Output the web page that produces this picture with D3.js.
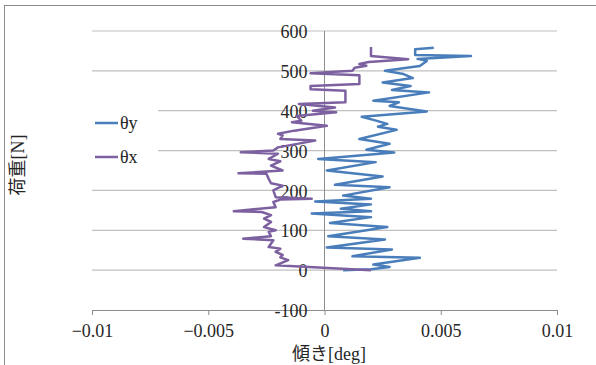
<!DOCTYPE html>
<html>
<head>
<meta charset="utf-8">
<script src="https://cdn.jsdelivr.net/npm/d3@7"></script>
<style>
body { margin: 0; background: #fff; }
svg text { font-family: "Liberation Serif", "Noto Sans CJK JP", serif; fill: #262626; }
</style>
</head>
<body>
<div id="box-div"></div>
<script>
// tick values
const xTicks = [-0.01, -0.005, 0, 0.005, 0.01];
const yTicks = [-100, 0, 100, 200, 300, 400, 500, 600];
const seriesNames = ['θy', 'θx'];

// [tilt deg, load N], bottom to top
const thetaY = [
    [0.0008, 0], [0.0020, 2], [0.0028, 8], [0.0021, 14], [0.0041, 31], [0.0012, 35],
    [0.0029, 52], [0.0001, 57], [0.0026, 77], [0.00016, 85], [0.0027, 108], [0.00024, 118],
    [0.0020, 133], [-0.00055, 142], [0.0020, 148], [0.0007, 154], [0.0020, 165], [-0.0004, 172],
    [0.0020, 179], [0.0008, 187], [0.0028, 208], [0.00045, 214], [0.0025, 235], [0.0001, 250],
    [0.0022, 271], [-0.00027, 279], [0.0030, 295], [0.0018, 302], [0.0028, 317], [0.0015, 329],
    [0.0031, 352], [0.0023, 360], [0.0027, 367], [0.0021, 377], [0.0016, 385], [0.0044, 398],
    [0.0028, 412], [0.0032, 421], [0.0021, 425], [0.0045, 446], [0.0029, 452], [0.0037, 462],
    [0.0025, 471], [0.0038, 482], [0.0034, 492], [0.0026, 500], [0.0041, 512], [0.0044, 525],
    [0.0040, 530], [0.0063, 537], [0.0039, 540], [0.0039, 554], [0.0047, 558]
];
const thetaX = [
    [0.0020, 0], [-0.0021, 12], [-0.00156, 25], [-0.0019, 32], [-0.0018, 38], [-0.0021, 46],
    [-0.0019, 54], [-0.0024, 58], [-0.0022, 75], [-0.0035, 79], [-0.0023, 85], [-0.0024, 96],
    [-0.0021, 100], [-0.0026, 108], [-0.0023, 121], [-0.0026, 129], [-0.0023, 138], [-0.0027, 146],
    [-0.0039, 148], [-0.0021, 158], [-0.0022, 171], [-0.0019, 177], [-0.00055, 179], [-0.0021, 183],
    [-0.0022, 200], [-0.0018, 212], [-0.0023, 218], [-0.0024, 229], [-0.0025, 242], [-0.0037, 243],
    [-0.0018, 250], [-0.0023, 262], [-0.0019, 273], [-0.0024, 279], [-0.0020, 292], [-0.0036, 296],
    [-0.0022, 300], [-0.0020, 308], [-0.0004, 325], [-0.0019, 329], [-0.0018, 338], [-0.0020, 342],
    [-0.0013, 350], [0.0001, 362], [-0.0014, 371], [-0.0010, 375], [-0.0012, 387], [0.0005, 396],
    [-0.0005, 400], [0.00045, 408], [-0.0011, 417], [0.0009, 421], [0.0009, 450], [-0.0006, 454],
    [-0.0006, 462], [0.0015, 467], [0.0015, 489], [-0.0006, 494], [0.0012, 500], [0.0013, 508],
    [0.0018, 513], [0.0015, 517], [0.0019, 522], [0.0036, 529], [0.0020, 537], [0.0020, 560]
];

const dms = {
    width: 596,
    height: 365,
    margin: { top: 31, right: 39, bottom: 55, left: 92 }
};
dms.contentWidth = dms.width - dms.margin.left - dms.margin.right;
dms.contentHeight = dms.height - dms.margin.top - dms.margin.bottom;

const colors = ['#4a7ebb', '#7d60a0'];

const box = d3.select('#box-div').append('svg')
    .attr('width', dms.width)
    .attr('height', dms.height);

// chart frame (cut off at right/bottom in the picture)
box.append('rect')
    .attr('x', 4.5).attr('y', 5.5)
    .attr('width', 700).attr('height', 500)
    .attr('fill', 'none')
    .attr('stroke', '#8c8c8c');

const content = box.append('g')
    .attr('transform', `translate(${dms.margin.left},${dms.margin.top})`);

const xScale = d3.scaleLinear().domain([-0.01, 0.01]).range([0, dms.contentWidth]);
const yScale = d3.scaleLinear().domain([-100, 600]).range([dms.contentHeight, 0]);

// horizontal gridlines
content.append('g').selectAll('line')
    .data(yTicks.filter(d => d > -100))
    .join('line')
    .attr('x1', 0).attr('x2', dms.contentWidth)
    .attr('y1', d => yScale(d)).attr('y2', d => yScale(d))
    .attr('stroke', '#c0c0c0')
    .attr('stroke-width', 1.2);

// x axis sits at -100
const xAxis = content.append('g')
    .attr('transform', `translate(0,${yScale(-100)})`)
    .call(d3.axisBottom(xScale).tickValues(xTicks).tickSize(5).tickPadding(9)
        .tickFormat(d => d3.format('~g')(d)));
xAxis.select('.domain').attr('stroke', '#8c8c8c');
xAxis.selectAll('.tick line').attr('stroke', '#8c8c8c');
xAxis.selectAll('.tick text').attr('font-size', 18).attr('fill', '#262626');

// y axis crosses at x = 0
const x0 = xScale(0);
content.append('line')
    .attr('x1', x0).attr('x2', x0)
    .attr('y1', yScale(600)).attr('y2', yScale(-100))
    .attr('stroke', '#8c8c8c');
content.append('g').selectAll('text')
    .data(yTicks)
    .join('text')
    .attr('x', x0 - 17)
    .attr('y', d => yScale(d))
    .attr('dy', '0.4em')
    .attr('text-anchor', 'end')
    .attr('font-size', 18)
    .text(d => d);

// series
const lineGen = d3.line().x(d => xScale(d[0])).y(d => yScale(d[1]));
[thetaY, thetaX].forEach((s, i) => {
    content.append('path')
        .datum(s)
        .attr('d', lineGen)
        .attr('fill', 'none')
        .attr('stroke', colors[i])
        .attr('stroke-width', 2.5)
        .attr('stroke-linejoin', 'round');
});

// legend
const legend = box.append('g');
legend.append('rect')
    .attr('x', 90).attr('y', 100).attr('width', 68).attr('height', 78)
    .attr('fill', '#fff');
seriesNames.forEach((n, i) => {
    const ly = 123 + i * 34;
    legend.append('line')
        .attr('x1', 95).attr('x2', 118).attr('y1', ly).attr('y2', ly)
        .attr('stroke', colors[i]).attr('stroke-width', 2.5);
    legend.append('text')
        .attr('x', 120).attr('y', ly).attr('dy', '0.35em')
        .attr('font-size', 18)
        .text(n);
});

// axis titles
box.append('text')
    .attr('x', 329).attr('y', 360)
    .attr('text-anchor', 'middle')
    .attr('font-size', 18)
    .text('傾き[deg]');
box.append('text')
    .attr('transform', 'translate(24,165) rotate(-90)')
    .attr('text-anchor', 'middle')
    .attr('font-size', 18)
    .text('荷重[N]');
</script>
</body>
</html>
